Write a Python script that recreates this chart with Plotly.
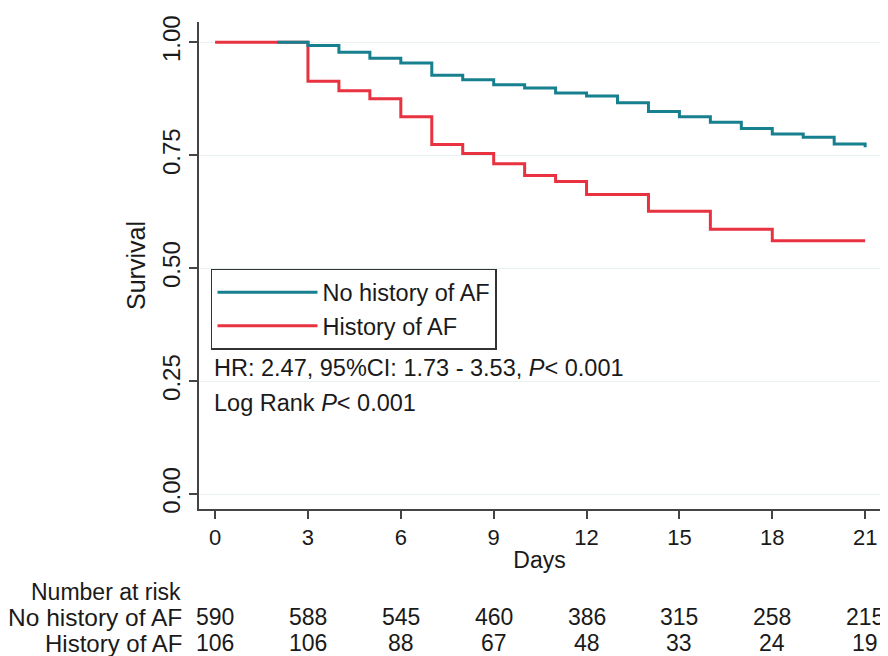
import plotly.graph_objects as go

# ---- data ----
days_no_af = [2, 3, 4, 5, 6, 7, 8, 9, 10, 11, 12, 13, 14, 15, 16, 17, 18, 19, 20, 21]
surv_no_af = [1.0, 0.993, 0.978, 0.965, 0.954, 0.927, 0.917, 0.906, 0.899, 0.888,
              0.881, 0.866, 0.847, 0.835, 0.823, 0.809, 0.797, 0.790, 0.775, 0.768]

days_af = [0, 3, 4, 5, 6, 7, 8, 9, 10, 11, 12, 14, 16, 18, 21]
surv_af = [1.0, 0.914, 0.893, 0.875, 0.835, 0.774, 0.754, 0.731, 0.705, 0.692,
           0.663, 0.626, 0.586, 0.561, 0.561]

risk_days = [0, 3, 6, 9, 12, 15, 18, 21]
risk_no_af = [590, 588, 545, 460, 386, 315, 258, 215]
risk_af = [106, 106, 88, 67, 48, 33, 24, 19]

y_ticks = [0.0, 0.25, 0.5, 0.75, 1.0]
y_tick_text = ["0.00", "0.25", "0.50", "0.75", "1.00"]

TEAL = "#17808f"
RED = "#e8323f"
FONT = "Liberation Sans, Arial, sans-serif"
TXT = "#1a1a1a"

fig = go.Figure()
fig.add_trace(go.Scatter(x=days_af, y=surv_af, mode="lines", line_shape="hv",
                         line=dict(color=RED, width=3), name="History of AF",
                         legendrank=2))
fig.add_trace(go.Scatter(x=days_no_af, y=surv_no_af, mode="lines", line_shape="hv",
                         line=dict(color=TEAL, width=3), name="No history of AF",
                         legendrank=1))

# page has an 8px body margin, so the figure is 8px smaller and shifted
fig.update_layout(
    width=880, height=648,
    margin=dict(l=191, r=8, t=14, b=147),
    paper_bgcolor="white", plot_bgcolor="white",
    font=dict(family=FONT, size=22, color=TXT),
    showlegend=True,
    legend=dict(x=0.0176, y=0.493, xanchor="left", yanchor="top",
                bordercolor="#333333", borderwidth=1.5, bgcolor="white",
                font=dict(size=23.5, color=TXT), itemwidth=100),
)

fig.update_xaxes(range=[-0.52, 21.48], tickvals=risk_days, ticks="outside",
                 ticklen=8, tickwidth=1.5, tickcolor="#444", showline=True,
                 linecolor="#444", linewidth=1.5, showgrid=False, zeroline=False,
                 tickfont=dict(size=22, color=TXT),
                 title=dict(text="Days", font=dict(size=23, color=TXT), standoff=3))
fig.update_yaxes(range=[-0.033, 1.045], tickvals=y_ticks, ticktext=y_tick_text,
                 tickangle=-90, ticks="outside", ticklen=8, tickwidth=1.5,
                 tickcolor="#444", showline=True, linecolor="#444", linewidth=1.5,
                 showgrid=True, gridcolor="#e9f0f2", gridwidth=1, zeroline=False,
                 tickfont=dict(size=24, color=TXT),
                 title=dict(text="Survival", font=dict(size=25, color=TXT), standoff=5))

# statistics text
fig.add_annotation(x=0.0191, y=0.2895, xref="paper", yref="paper", xanchor="left",
                   yanchor="middle", showarrow=False,
                   text="HR: 2.47, 95%CI: 1.73 - 3.53, <i>P</i>< 0.001",
                   font=dict(size=23.5, color=TXT))
fig.add_annotation(x=0.0191, y=0.2177, xref="paper", yref="paper", xanchor="left",
                   yanchor="middle", showarrow=False,
                   text="Log Rank <i>P</i>< 0.001", font=dict(size=23.5, color=TXT))

# number at risk table
row_y = [-0.1704, -0.2218, -0.2752]
fig.add_annotation(x=-0.0235, y=row_y[0], xref="paper", yref="paper", xanchor="right",
                   yanchor="middle", showarrow=False, text="Number at risk",
                   font=dict(size=23, color=TXT))
fig.add_annotation(x=-0.0220, y=row_y[1], xref="paper", yref="paper", xanchor="right",
                   yanchor="middle", showarrow=False, text="No history of AF",
                   font=dict(size=24.5, color=TXT))
fig.add_annotation(x=-0.0220, y=row_y[2], xref="paper", yref="paper", xanchor="right",
                   yanchor="middle", showarrow=False, text="History of AF",
                   font=dict(size=24, color=TXT))
for d, n1, n2 in zip(risk_days, risk_no_af, risk_af):
    fig.add_annotation(x=d, y=row_y[1], xref="x", yref="paper", xanchor="center",
                       yanchor="middle", showarrow=False, text=str(n1),
                       font=dict(size=23, color=TXT))
    fig.add_annotation(x=d, y=row_y[2], xref="x", yref="paper", xanchor="center",
                       yanchor="middle", showarrow=False, text=str(n2),
                       font=dict(size=23, color=TXT))

fig.write_html("out.html")
